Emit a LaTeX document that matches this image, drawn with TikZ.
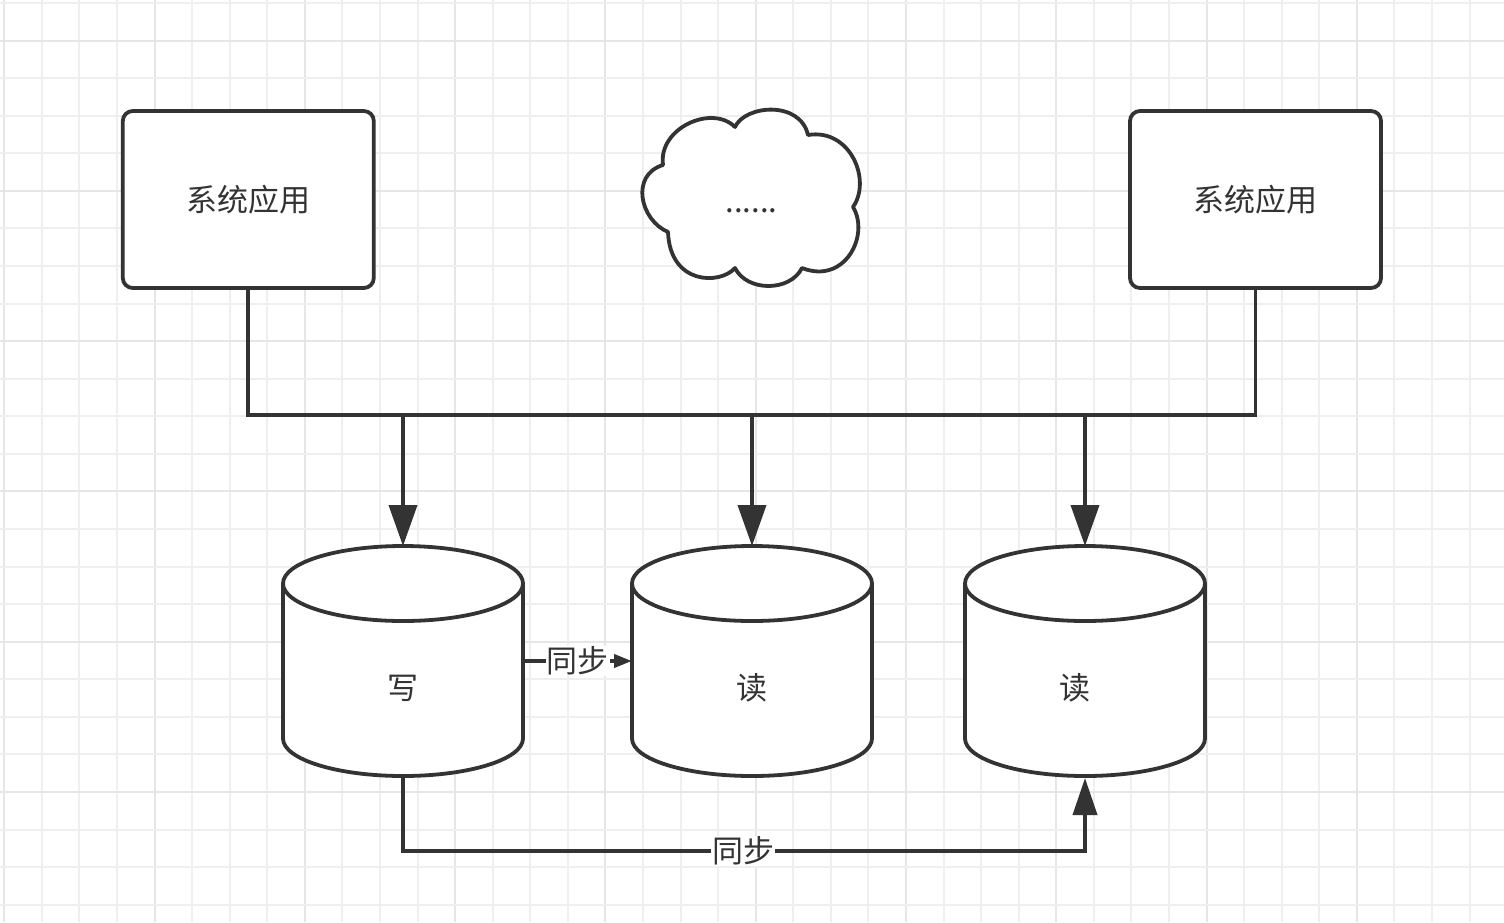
\documentclass[tikz,border=0pt]{standalone}
\usepackage{fontspec}
\setmainfont{Noto Sans CJK SC}
\usetikzlibrary{arrows.meta}
\definecolor{ink}{HTML}{333333}
\definecolor{gridminor}{HTML}{EFEFEF}
\definecolor{gridmajor}{HTML}{E6E6E6}
\begin{document}
\begin{tikzpicture}[x=0.5pt,y=-0.5pt,
  line/.style={draw=ink, line width=1.9pt},
  txt/.style={text=ink, font=\fontsize{15.5pt}{18pt}\selectfont, inner sep=1pt},
  appbox/.style={line, fill=white, rounded corners=5pt, minimum width=125.5pt, minimum height=88.5pt, inner sep=0pt, outer sep=0pt, txt},
  dbbody/.style={minimum width=120pt, minimum height=115pt, inner sep=0pt, outer sep=0pt},
  lbl/.style={txt, fill=white, inner sep=0.5pt},
  arrbig/.style={line, -{Triangle[length=20.5pt,width=14pt]}},
  arrmid/.style={line, -{Triangle[length=9pt,width=6.5pt]}},
  arrbot/.style={line, -{Triangle[length=18.5pt,width=12pt]}},
  gminor/.style={draw=gridminor, line width=1pt},
  gmajor/.style={draw=gridmajor, line width=1pt}
]
\useasboundingbox[fill=white] (0,0) rectangle (1504,922);
% grid
\foreach \i in {0,...,39}{
  \pgfmathsetmacro\gx{4.3+37.57*\i}
  \pgfmathtruncatemacro\gm{mod(\i,4)}
  \ifnum\gm=0 \draw[gmajor] (\gx,0) -- (\gx,922); \else \draw[gminor] (\gx,0) -- (\gx,922); \fi
}
\foreach \j in {0,...,24}{
  \pgfmathsetmacro\gy{3+37.57*\j}
  \pgfmathtruncatemacro\gm{mod(\j,4)}
  \ifnum\gm=1 \draw[gmajor] (0,\gy) -- (1504,\gy); \else \draw[gminor] (0,\gy) -- (1504,\gy); \fi
}
% application boxes
\node[appbox] (b1) at (248.3,199.5) {系统应用};
\node[appbox] (b2) at (1255.5,199.5) {系统应用};
% cloud
\draw[line, fill=white, line join=round]
  (663,165) .. controls (658,128) and (712,104) .. (735,127)
  .. controls (745,105) and (800,100) .. (808,135)
  .. controls (850,128) and (872,180) .. (853,207)
  .. controls (870,235) and (845,285) .. (802,268)
  .. controls (790,292) and (747,292) .. (735,268)
  .. controls (720,285) and (670,285) .. (668,232)
  .. controls (640,220) and (630,175) .. (663,165) -- cycle;
\node[txt] (cl) at (751.5,211) {......};
% databases
\node[dbbody] (c1) at (403,661) {};
\node[dbbody] (c2) at (752,661) {};
\node[dbbody] (c3) at (1085,661) {};
\foreach \c in {c1,c2,c3}{
  \draw[line, fill=white]
    ([yshift=-18.75pt]\c.north west) -- ([yshift=18.75pt]\c.south west)
    arc[start angle=180, end angle=360, x radius=60pt, y radius=18.75pt]
    -- ([yshift=-18.75pt]\c.north east)
    arc[start angle=0, end angle=180, x radius=60pt, y radius=18.75pt] -- cycle;
  \draw[line] ([yshift=-18.75pt]\c.north west)
    arc[start angle=180, end angle=360, x radius=60pt, y radius=18.75pt];
}
\node[txt] (t1) at (403,688) {写};
\node[txt] (t2) at (752,688) {读};
\node[txt] (t3) at (1075,688) {读};
% bus
\coordinate (bus) at (752,415);
\coordinate (j1) at (403,415);
\coordinate (j3) at (1085,415);
\draw[line] (b1.south) |- (bus) -| (b2.south);
\draw[arrbig] (j1) -- (c1.north);
\draw[arrbig] (bus) -- (c2.north);
\draw[arrbig] (j3) -- (c3.north);
% sync arrows
\draw[arrmid] (c1.east) -- (c2.west) node[midway, lbl] (s1) {同步};
\coordinate (s2c) at (743,851);
\draw[arrbot] (c1.south) |- (s2c) -| ([yshift=-1pt]c3.south);
\node[lbl] (s2) at (s2c) {同步};
\end{tikzpicture}
\end{document}
